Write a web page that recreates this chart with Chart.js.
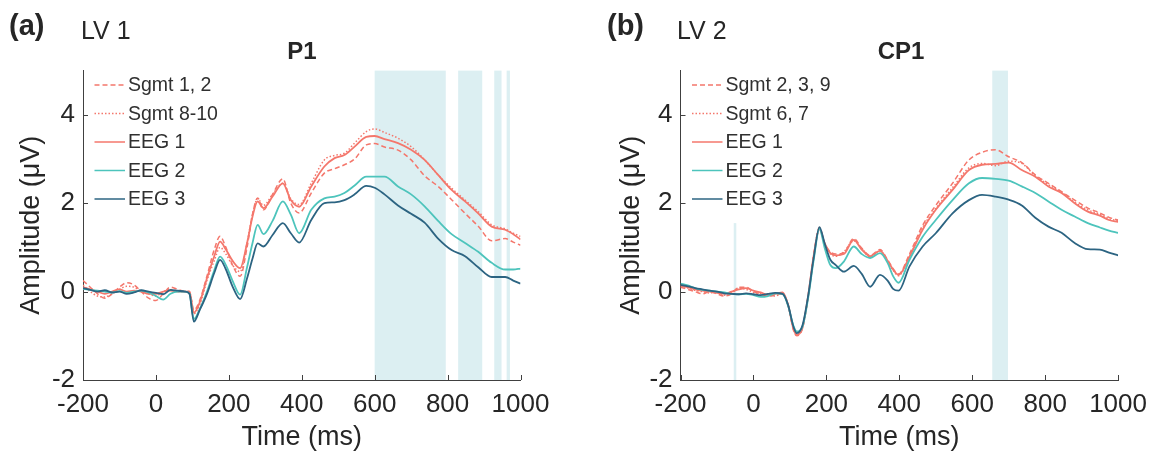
<!DOCTYPE html>
<html><head><meta charset="utf-8">
<script src="https://cdn.jsdelivr.net/npm/chart.js@4.4.1/dist/chart.umd.min.js"></script>
<style>
html,body{margin:0;padding:0;background:#fff;width:1156px;height:454px;overflow:hidden;}
.wrap{position:absolute;top:0;}
.lbl{position:absolute;font-family:"Liberation Sans",Arial,Helvetica,sans-serif;color:#262626;white-space:nowrap;line-height:1;}
</style></head><body>
<div class="wrap" style="left:0px"><canvas id="ca" width="600" height="454"></canvas></div>
<div class="wrap" style="left:600px"><canvas id="cb" width="556" height="454"></canvas></div>
<div class="lbl" style="left:9px;top:11px;font-size:29px;font-weight:bold">(a)</div>
<div class="lbl" style="left:81px;top:18px;font-size:25px">LV 1</div>
<div class="lbl" style="left:202px;width:200px;text-align:center;top:39px;font-size:24px;font-weight:bold">P1</div>
<div class="lbl" style="left:607px;top:11px;font-size:29px;font-weight:bold">(b)</div>
<div class="lbl" style="left:677px;top:18px;font-size:25px">LV 2</div>
<div class="lbl" style="left:801px;width:200px;text-align:center;top:39px;font-size:24px;font-weight:bold">CP1</div>
<script>
// ---------- Data: panel (a) LV 1, channel P1 ----------
const timeA = [-200,-180,-160,-140,-120,-100,-80,-60,-40,-20,0,20,40,60,80,
  92,104,120,140,160,176,192,210,231,250,265,279,295,320,348,370,393,
  426,462,490,517,545,577,600,627,664,700,737,774,811,848,884,921,958,980,1000];
const namesA = ["Sgmt 1, 2","Sgmt 8-10","EEG 1","EEG 2","EEG 3"];
const sgmt12A = [0.25,0.10,-0.05,-0.15,-0.05,0.10,0.20,0.15,0.00,-0.15,-0.20,-0.05,0.10,0.05,0.00,
  0.00,-0.42,-0.20,0.35,0.95,1.25,1.00,0.60,0.35,1.00,1.75,2.12,1.85,2.20,2.55,2.00,1.78,
  2.23,2.68,2.78,2.87,3.00,3.32,3.35,3.27,3.20,2.98,2.62,2.38,2.08,1.77,1.48,1.15,1.20,1.12,1.05];
const sgmt810A = [0.15,0.00,-0.10,-0.12,-0.05,0.05,0.12,0.10,0.00,-0.05,-0.10,0.00,0.05,0.00,0.00,
  0.00,-0.50,-0.30,0.25,0.70,1.00,0.85,0.60,0.45,1.10,1.75,2.10,1.95,2.20,2.45,2.10,1.97,
  2.45,2.98,3.08,3.13,3.36,3.62,3.68,3.60,3.47,3.28,2.98,2.64,2.34,2.07,1.81,1.51,1.42,1.32,1.25];
const eeg1A = [0.10,0.05,0.00,-0.05,0.00,0.05,0.00,0.02,0.00,-0.05,-0.05,0.00,0.02,0.00,0.00,
  0.00,-0.48,-0.25,0.30,0.80,1.13,0.95,0.70,0.53,1.10,1.70,2.04,1.89,2.15,2.45,2.07,1.92,
  2.38,2.83,3.02,3.09,3.28,3.50,3.52,3.45,3.36,3.21,2.98,2.64,2.30,2.04,1.77,1.47,1.40,1.30,1.18];
const eeg2A = [0.06,0.04,0.02,0.00,-0.02,0.01,-0.03,0.00,0.02,-0.02,-0.10,-0.18,-0.05,0.00,0.00,
  -0.05,-0.62,-0.40,0.00,0.48,0.79,0.60,0.25,-0.07,0.55,1.10,1.51,1.30,1.60,2.04,1.74,1.32,
  1.85,2.11,2.15,2.23,2.40,2.60,2.60,2.60,2.38,2.20,1.93,1.60,1.30,1.10,0.90,0.65,0.50,0.50,0.52];
const eeg3A = [0.08,0.04,0.00,0.03,-0.02,0.00,-0.05,-0.02,0.03,0.00,-0.03,-0.06,0.04,0.02,0.00,
  -0.05,-0.68,-0.42,-0.05,0.42,0.72,0.50,0.12,-0.17,0.30,0.75,1.09,1.02,1.28,1.55,1.32,1.11,
  1.62,2.00,2.02,2.07,2.20,2.39,2.35,2.20,1.95,1.76,1.56,1.20,0.94,0.80,0.55,0.33,0.33,0.25,0.18];
const bandStartA = [600,829,928,962];
const bandEndA   = [795,895,948,971];
const bandTopA   = [5,5,5,5];

// ---------- Data: panel (b) LV 2, channel CP1 ----------
const timeB = [-200,-180,-160,-140,-120,-100,-80,-60,-40,-20,0,20,40,60,80,
  95,110,119,135,150,165,181,195,211,226,248,275,297,320,347,368,383,398,
  428,464,500,546,591,627,664,700,736,773,809,845,881,917,950,975,1000];
const namesB = ["Sgmt 2, 3, 9","Sgmt 6, 7","EEG 1","EEG 2","EEG 3"];
const sgmt239B = [0.10,0.05,0.00,-0.05,0.00,-0.05,-0.10,-0.05,0.10,0.10,0.00,-0.05,-0.10,-0.08,-0.05,
  -0.30,-0.88,-1.00,-0.82,-0.10,0.82,1.45,1.10,0.90,0.85,0.88,1.20,0.98,0.82,0.95,0.72,0.52,0.40,
  0.85,1.50,1.95,2.45,2.98,3.15,3.21,3.05,2.92,2.64,2.45,2.26,2.07,1.89,1.78,1.68,1.62];
const sgmt67B = [0.14,0.08,0.03,0.00,-0.03,0.00,-0.08,-0.02,0.08,0.05,-0.02,-0.05,-0.06,-0.10,-0.03,
  -0.30,-0.85,-0.96,-0.80,-0.12,0.78,1.40,1.08,0.85,0.80,0.90,1.15,0.98,0.78,0.93,0.68,0.48,0.36,
  0.80,1.45,1.88,2.35,2.80,2.90,2.85,2.95,2.90,2.62,2.42,2.25,2.02,1.85,1.75,1.65,1.60];
const eeg1B = [0.12,0.10,0.05,0.02,0.00,-0.03,-0.05,0.00,0.05,0.08,0.02,-0.02,-0.08,-0.05,-0.02,
  -0.30,-0.85,-0.98,-0.80,-0.10,0.80,1.42,1.10,0.87,0.82,0.85,1.17,0.95,0.80,0.92,0.70,0.50,0.38,
  0.79,1.40,1.85,2.30,2.75,2.87,2.89,2.92,2.75,2.60,2.38,2.23,2.00,1.81,1.72,1.62,1.58];
const eeg2B = [0.18,0.14,0.08,0.04,0.02,0.00,-0.02,-0.05,-0.06,-0.05,-0.08,-0.12,-0.10,-0.04,-0.05,
  -0.32,-0.78,-0.90,-0.78,-0.15,0.70,1.42,1.00,0.60,0.53,0.68,1.02,0.85,0.76,0.87,0.65,0.35,0.20,
  0.72,1.24,1.62,2.07,2.45,2.57,2.55,2.51,2.38,2.23,2.04,1.85,1.70,1.55,1.45,1.38,1.33];
const eeg3B = [0.15,0.12,0.08,0.05,0.02,0.00,-0.04,-0.05,-0.06,-0.04,-0.06,-0.08,-0.05,-0.03,-0.05,
  -0.30,-0.80,-0.94,-0.75,-0.10,0.75,1.46,1.10,0.72,0.60,0.45,0.58,0.40,0.11,0.38,0.25,0.06,0.02,
  0.57,1.02,1.32,1.77,2.07,2.19,2.15,2.08,1.95,1.67,1.47,1.33,1.10,0.96,0.95,0.88,0.82];
const bandStartB = [655,-54];
const bandEndB   = [698,-47];
const bandTopB   = [5,1.55];

// ---------- Axes ----------
const xMin = -200, xMax = 1000, xStep = 200;
const yMin = -2, yMax = 5, yStep = 2;
const xTitle = "Time (ms)";
const yTitle = "Amplitude (\u03bcV)";

// ---------- Styles ----------
const FONT = '"Liberation Sans", Arial, Helvetica, sans-serif';
const TXT = '#262626';
const SALMON = '#F4776C', TEAL = '#4DC4BC', DARK = '#2C6482';
const lineStyles = [
  {color: SALMON, dash: [5,3], width: 1.5, order: 5},
  {color: SALMON, dash: [1.5,2], width: 1.5, order: 4},
  {color: SALMON, dash: [], width: 1.8, order: 3},
  {color: TEAL, dash: [], width: 1.8, order: 2},
  {color: DARK, dash: [], width: 1.8, order: 1}
];

const bandPlugin = {
  id: 'bands',
  beforeDatasetsDraw(chart, args, o) {
    const {ctx, scales: {x, y}} = chart;
    ctx.save();
    ctx.fillStyle = o.color;
    o.start.forEach((s, i) => {
      const x0 = x.getPixelForValue(s), x1 = x.getPixelForValue(o.end[i]);
      const yt = y.getPixelForValue(o.top[i]), yb = y.getPixelForValue(y.min);
      ctx.fillRect(x0, yt, x1 - x0, yb - yt);
    });
    ctx.restore();
  }
};
const tickPlugin = {
  id: 'inticks',
  afterDraw(chart) {
    const {ctx, chartArea: a, scales: {x, y}} = chart;
    ctx.save();
    ctx.strokeStyle = '#404040'; ctx.lineWidth = 1;
    ctx.beginPath();
    x.ticks.forEach(t => { const px = Math.round(x.getPixelForValue(t.value)) + 0.5; ctx.moveTo(px, a.bottom); ctx.lineTo(px, a.bottom - 5); });
    y.ticks.forEach(t => { const py = Math.round(y.getPixelForValue(t.value)) + 0.5; ctx.moveTo(a.left, py); ctx.lineTo(a.left + 5, py); });
    ctx.stroke();
    ctx.restore();
  }
};
const legendPlugin = {
  id: 'inlegend',
  afterDraw(chart, args, o) {
    const {ctx, chartArea: a} = chart;
    ctx.save();
    ctx.font = '19.5px ' + FONT;
    ctx.textBaseline = 'middle';
    ctx.textAlign = 'left';
    chart.data.datasets.forEach((ds, i) => {
      const yy = o.y0 + i * o.dy;
      ctx.strokeStyle = ds.borderColor;
      ctx.lineWidth = 1.5;
      ctx.setLineDash(ds.borderDash || []);
      ctx.beginPath();
      ctx.moveTo(a.left + o.x0, yy); ctx.lineTo(a.left + o.x1, yy);
      ctx.stroke();
      ctx.setLineDash([]);
      ctx.fillStyle = '#303030';
      ctx.fillText(ds.label, a.left + o.tx, yy + 1);
    });
    ctx.restore();
  }
};

function makePanel(id, W, left, right, times, names, series, bS, bE, bT) {
  const datasets = series.map((vals, i) => ({
    label: names[i],
    data: times.map((t, k) => ({x: t, y: vals[k]})),
    borderColor: lineStyles[i].color,
    borderDash: lineStyles[i].dash,
    borderWidth: lineStyles[i].width,
    order: lineStyles[i].order,
    pointRadius: 0,
    fill: false,
    cubicInterpolationMode: 'monotone'
  }));
  return new Chart(document.getElementById(id), {
    type: 'line',
    data: {datasets},
    plugins: [bandPlugin, tickPlugin, legendPlugin],
    options: {
      responsive: false, animation: false, devicePixelRatio: 1,
      layout: {padding: {left: 0, right: W - right, top: 70.6, bottom: 0}},
      plugins: {
        legend: {display: false}, tooltip: {enabled: false},
        bands: {color: '#DCEFF2', start: bS, end: bE, top: bT},
        inlegend: {x0: 11.5, x1: 42, tx: 45, y0: 85, dy: 28.5}
      },
      scales: {
        x: {
          type: 'linear', min: xMin, max: xMax,
          afterFit(s) { s.height = 74; },
          grid: {display: false, drawTicks: false},
          border: {display: true, color: '#404040', width: 1},
          ticks: {stepSize: xStep, padding: 9, color: TXT, maxRotation: 0, autoSkip: false,
                  callback: v => String(v), font: {size: 26, family: FONT}},
          title: {display: true, text: xTitle, color: TXT, padding: {top: 0, bottom: 0},
                  font: {size: 27, family: FONT}}
        },
        y: {
          type: 'linear', min: yMin, max: yMax,
          afterFit(s) { s.width = left; },
          grid: {display: false, drawTicks: false},
          border: {display: true, color: '#404040', width: 1},
          ticks: {stepSize: yStep, includeBounds: false, padding: 8, color: TXT,
                  callback: v => String(v), font: {size: 26, family: FONT}},
          title: {display: true, text: yTitle, color: TXT, padding: {top: 15, bottom: 0},
                  font: {size: 27, family: FONT}}
        }
      }
    }
  });
}

makePanel('ca', 600, 83, 520.5, timeA, namesA, [sgmt12A, sgmt810A, eeg1A, eeg2A, eeg3A],
          bandStartA, bandEndA, bandTopA);
makePanel('cb', 556, 80.5, 520.7, timeB, namesB, [sgmt239B, sgmt67B, eeg1B, eeg2B, eeg3B],
          bandStartB, bandEndB, bandTopB);
</script>
</body></html>
